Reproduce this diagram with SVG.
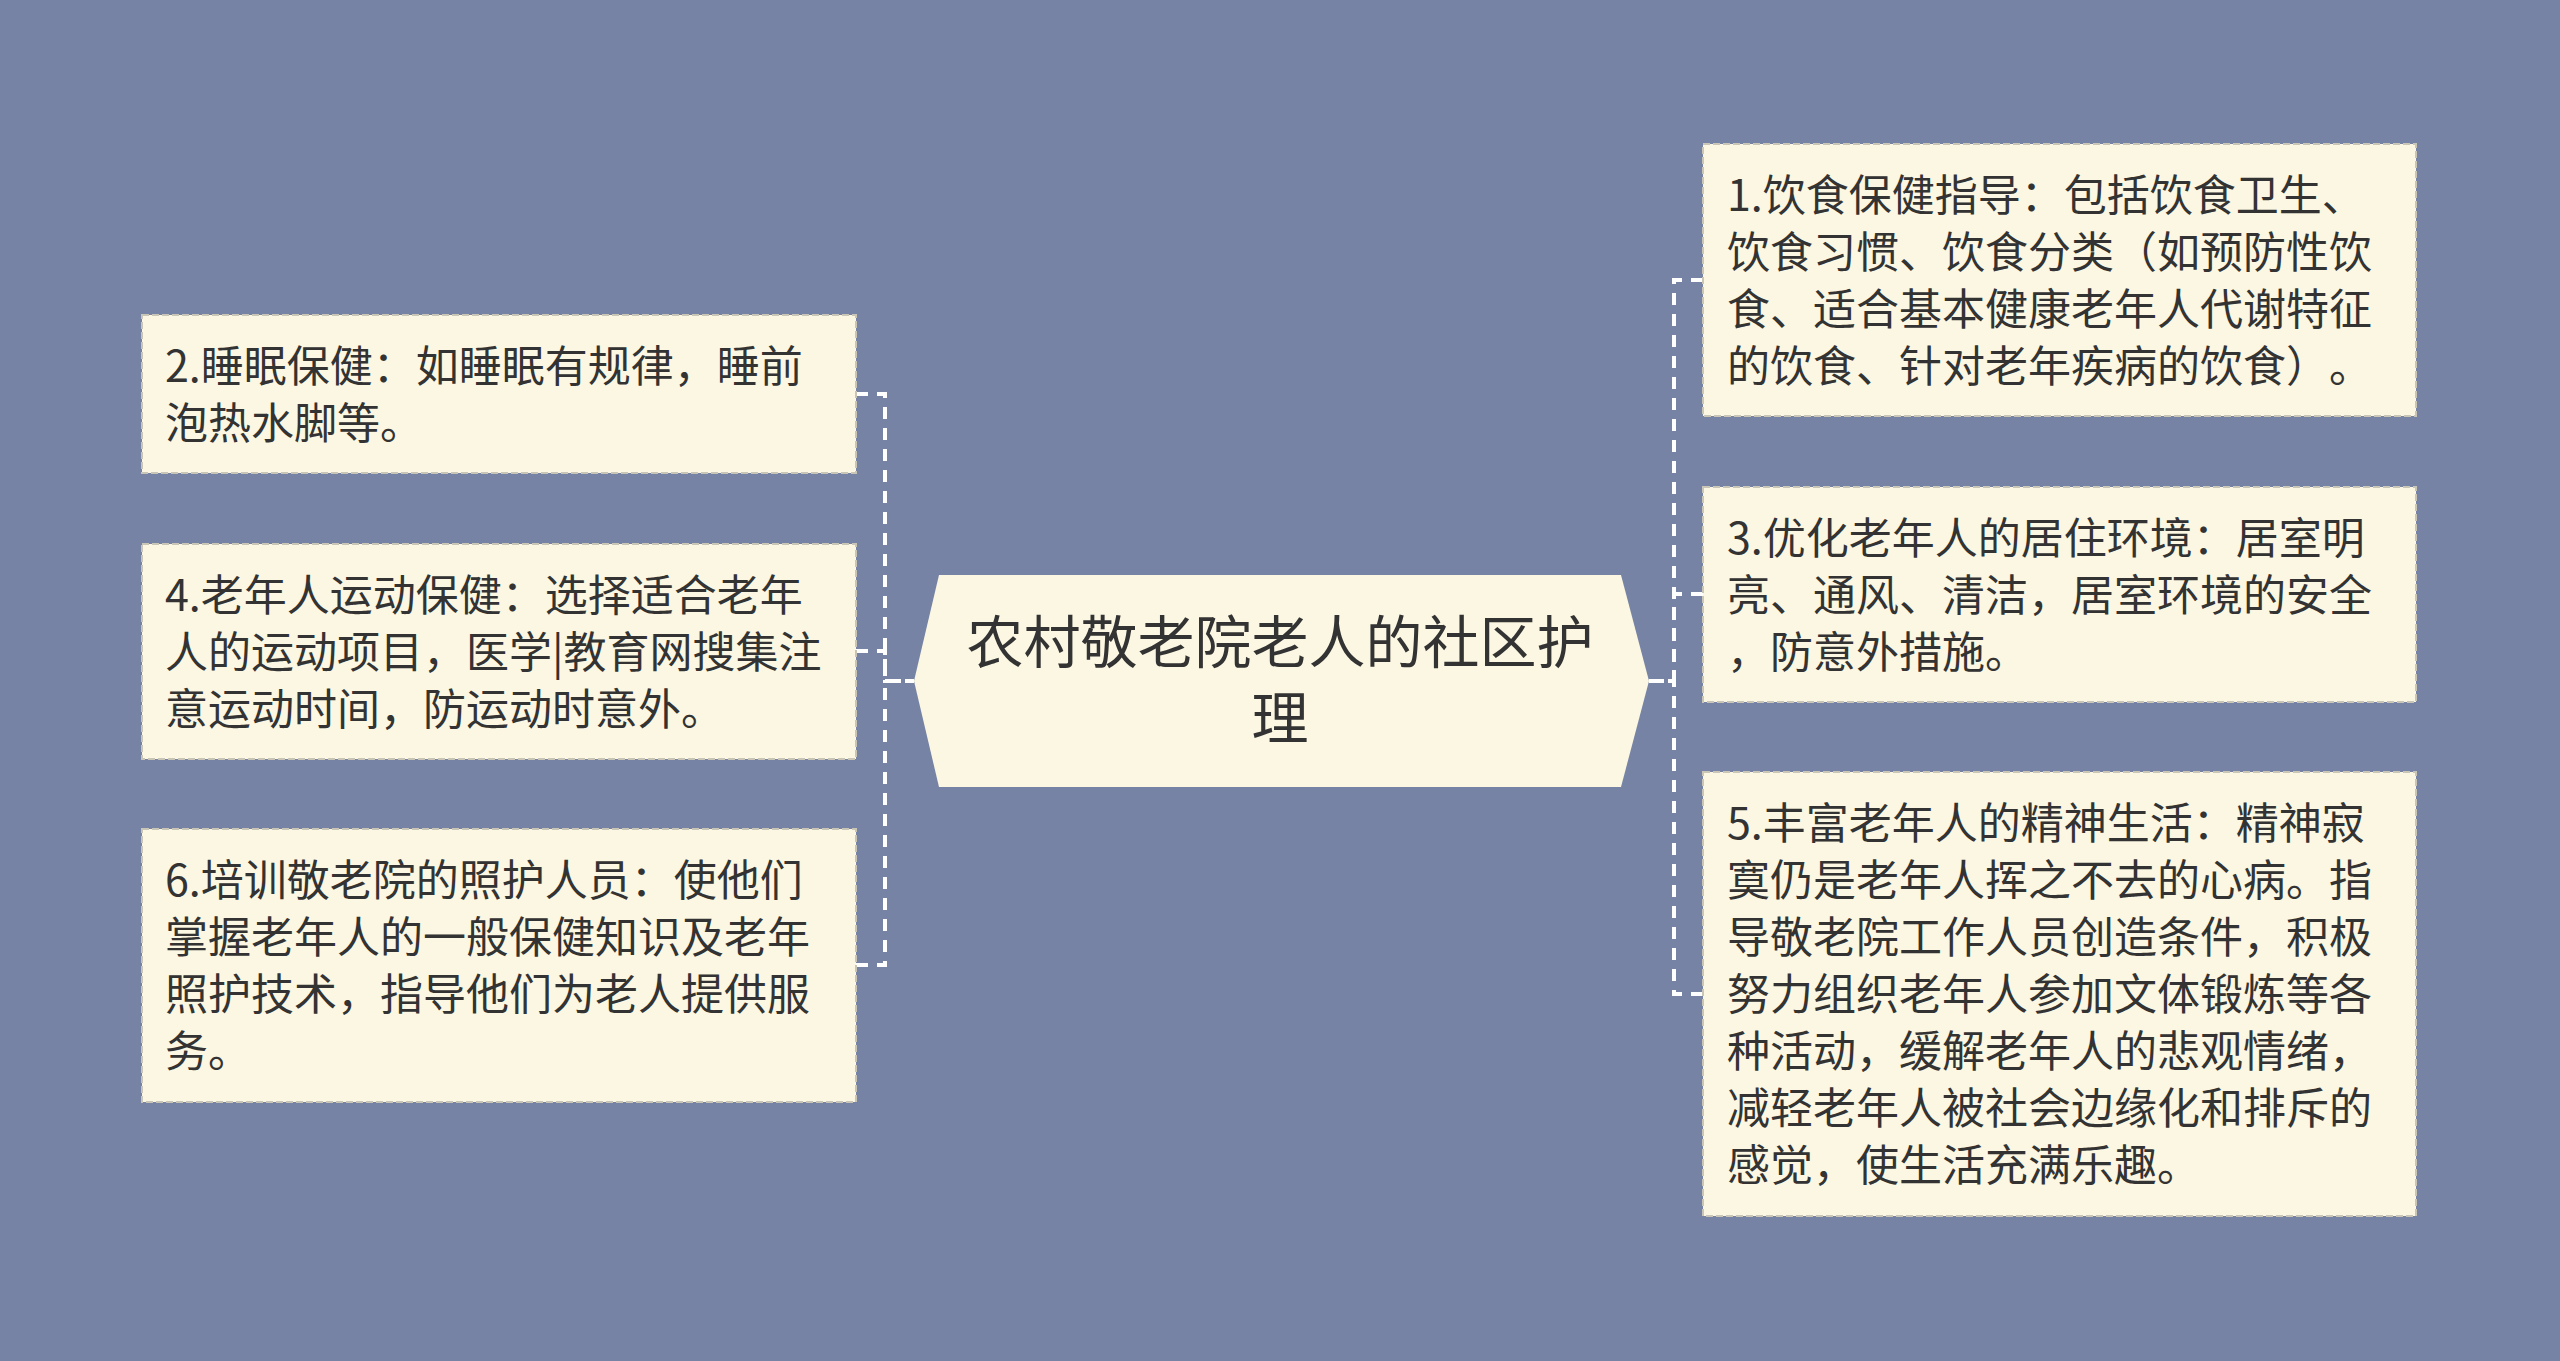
<svg xmlns="http://www.w3.org/2000/svg" width="2560" height="1361" viewBox="0 0 2560 1361">
<style>
.bg{fill:#7783A4}
.box{fill:#FBF7E2;stroke:#C9C6B8;stroke-width:2;stroke-dasharray:7 3}
.hub{fill:#FBF7E2}
.t{font-family:"Noto Sans CJK SC","Noto Sans",sans-serif;font-size:43px;fill:#333333;text-spacing-trim:space-all}
.ct{font-family:"Noto Sans CJK SC","Noto Sans",sans-serif;font-size:57px;fill:#333333;text-anchor:middle}
.c{fill:none;stroke:#FFFFFF;stroke-width:4;stroke-dasharray:12 9}
</style>
<rect class="bg" x="0" y="0" width="2560" height="1361"/>
<g id="connectors">
<path class="c" d="M856,394 H885 V681 H914"/>
<path class="c" d="M856,651 H885 V681 H914"/>
<path class="c" d="M856,965 H885 V681 H914"/>
<path class="c" d="M1703,280 H1674 V681 H1649"/>
<path class="c" d="M1703,594 H1674 V681 H1649"/>
<path class="c" d="M1703,994 H1674 V681 H1649"/>
</g>
<g id="center">
<polygon class="hub" points="914,681 939,575 1621,575 1649,681 1621,787 939,787"/>
<text class="ct" x="1280" y="663">农村敬老院老人的社区护</text>
<text class="ct" x="1280" y="739">理</text>
</g>
<g id="node2">
<rect class="box" x="142" y="315" width="714" height="158"/>
<text class="t" x="165" y="382">2.睡眠保健：如睡眠有规律，睡前</text>
<text class="t" x="165" y="439">泡热水脚等。</text>
</g>
<g id="node4">
<rect class="box" x="142" y="544" width="714" height="215"/>
<text class="t" x="165" y="611">4.老年人运动保健：选择适合老年</text>
<text class="t" x="165" y="668">人的运动项目，医学|教育网搜集注</text>
<text class="t" x="165" y="725">意运动时间，防运动时意外。</text>
</g>
<g id="node6">
<rect class="box" x="142" y="829" width="714" height="273"/>
<text class="t" x="165" y="896">6.培训敬老院的照护人员：使他们</text>
<text class="t" x="165" y="953">掌握老年人的一般保健知识及老年</text>
<text class="t" x="165" y="1010">照护技术，指导他们为老人提供服</text>
<text class="t" x="165" y="1067">务。</text>
</g>
<g id="node1">
<rect class="box" x="1703" y="144" width="713" height="272"/>
<text class="t" x="1727" y="211">1.饮食保健指导：包括饮食卫生、</text>
<text class="t" x="1727" y="268">饮食习惯、饮食分类（如预防性饮</text>
<text class="t" x="1727" y="325">食、适合基本健康老年人代谢特征</text>
<text class="t" x="1727" y="382">的饮食、针对老年疾病的饮食）。</text>
</g>
<g id="node3">
<rect class="box" x="1703" y="487" width="713" height="215"/>
<text class="t" x="1727" y="554">3.优化老年人的居住环境：居室明</text>
<text class="t" x="1727" y="611">亮、通风、清洁，居室环境的安全</text>
<text class="t" x="1727" y="668">，防意外措施。</text>
</g>
<g id="node5">
<rect class="box" x="1703" y="772" width="713" height="444"/>
<text class="t" x="1727" y="839">5.丰富老年人的精神生活：精神寂</text>
<text class="t" x="1727" y="896">寞仍是老年人挥之不去的心病。指</text>
<text class="t" x="1727" y="953">导敬老院工作人员创造条件，积极</text>
<text class="t" x="1727" y="1010">努力组织老年人参加文体锻炼等各</text>
<text class="t" x="1727" y="1067">种活动，缓解老年人的悲观情绪，</text>
<text class="t" x="1727" y="1124">减轻老年人被社会边缘化和排斥的</text>
<text class="t" x="1727" y="1181">感觉，使生活充满乐趣。</text>
</g>
</svg>
